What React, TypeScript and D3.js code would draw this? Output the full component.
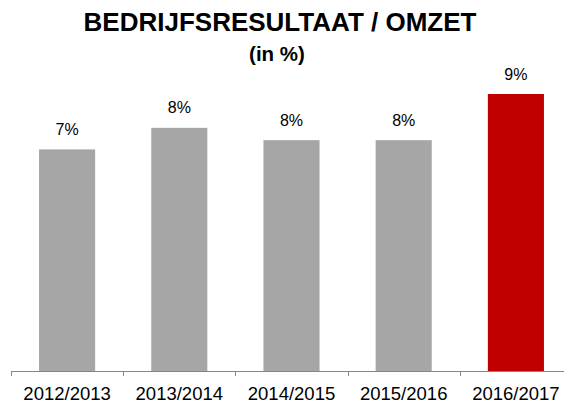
import React from "react";
import * as d3 from "d3";

const categories = ["2012/2013", "2013/2014", "2014/2015", "2015/2016", "2016/2017"];
const values = [7.2, 7.9, 7.5, 7.5, 9.0];
const valueLabels = ["7%", "8%", "8%", "8%", "9%"];
const highlight = [false, false, false, false, true];

const W = 564;
const H = 405;
const FONT = "'Liberation Sans', Arial, Helvetica, sans-serif";

export default function App() {
  const x = d3.scaleBand<string>().domain(categories).range([11, 572]).paddingInner(0.5).paddingOuter(0.25);
  const y = d3.scaleLinear().domain([0, 9]).range([371, 94]);
  const step = x.step();
  const bounds = d3.range(categories.length + 1).map((i) => 11 + i * step);

  return (
    <svg width={W} height={H} style={{ position: "absolute", left: 0, top: 0, background: "#fff" }} fontFamily={FONT}>
      <text x={280} y={30.5} textAnchor="middle" fontSize={26} fontWeight="bold" fill="#000">
        BEDRIJFSRESULTAAT / OMZET
      </text>
      <text x={277} y={61} textAnchor="middle" fontSize={20.5} fontWeight="bold" fill="#000">
        (in %)
      </text>
      {categories.map((c, i) => (
        <g key={c}>
          <rect
            x={x(c)!}
            y={y(values[i])}
            width={x.bandwidth()}
            height={y(0) - y(values[i])}
            fill={highlight[i] ? "#c00000" : "#a6a6a6"}
          />
          <text x={x(c)! + x.bandwidth() / 2} y={y(values[i]) - 14.5} textAnchor="middle" fontSize={16} fill="#000">
            {valueLabels[i]}
          </text>
          <text x={x(c)! + x.bandwidth() / 2} y={400} textAnchor="middle" fontSize={18.5} fill="#000">
            {c}
          </text>
        </g>
      ))}
      <line x1={11} x2={W} y1={371.5} y2={371.5} stroke="#868686" strokeWidth={1} />
      {bounds.map((b, i) => (
        <line key={i} x1={Math.round(b) + 0.5} x2={Math.round(b) + 0.5} y1={371} y2={376} stroke="#868686" strokeWidth={1} />
      ))}
    </svg>
  );
}
